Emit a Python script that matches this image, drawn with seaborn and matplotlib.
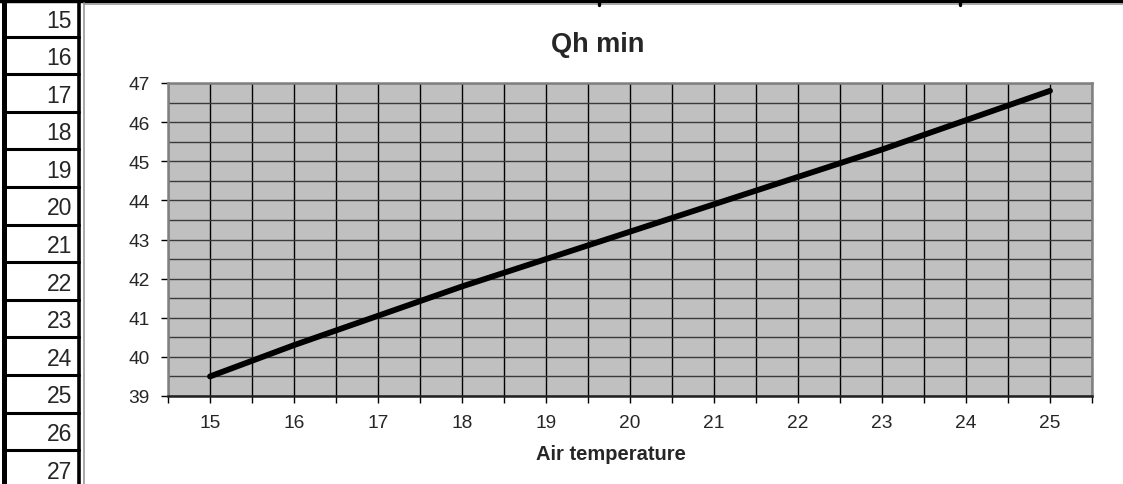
import numpy as np
import pandas as pd
import matplotlib
matplotlib.use("Agg")
import matplotlib.pyplot as plt
from matplotlib.lines import Line2D
import seaborn as sns

# Values
air_temp = [15, 16, 17, 18, 19, 20, 21, 22, 23, 24, 25]
qh_min = [39.5, 40.3, 41.05, 41.8, 42.5, 43.2, 43.9, 44.6, 45.3, 46.05, 46.8]
row_numbers = list(range(15, 28))

df = pd.DataFrame({"Air temperature": air_temp, "Qh min": qh_min})

sns.set_style("white")
plt.rcParams["font.family"] = ["Liberation Sans", "DejaVu Sans"]

W, H = 1123, 485
fig = plt.figure(figsize=(W / 100, H / 100), dpi=100)


def fx(px):
    return px / W


def fy(py):
    return 1 - py / H


# spreadsheet frame around the chart
fig.add_artist(Line2D([0, 1], [fy(2), fy(2)], color="black", lw=3.2))
fig.add_artist(Line2D([fx(84), 1], [fy(5), fy(5)], color="#999999", lw=1.2))
fig.add_artist(Line2D([fx(84), fx(84)], [0, fy(4)], color="#999999", lw=1.2))
fig.add_artist(Line2D([fx(4), fx(4)], [0, 1], color="black", lw=3.6))
fig.add_artist(Line2D([fx(78.5), fx(78.5)], [0, 1], color="black", lw=2.6))
for col_x in [599, 960]:
    fig.add_artist(Line2D([fx(col_x), fx(col_x)], [fy(0), fy(6)], color="black", lw=2.4))

row_h = 37.6
for i, r in enumerate(row_numbers):
    line_y = 37.5 + row_h * i
    fig.add_artist(Line2D([fx(4), fx(78.5)], [fy(line_y), fy(line_y)], color="black", lw=2.2))
    fig.text(fx(72), fy(line_y - 5), str(r), ha="right", va="bottom", fontsize=16.5)

# chart
ax = fig.add_axes([fx(168), fy(397), fx(924), (397 - 84) / H])
ax.set_facecolor("#C0C0C0")
sns.lineplot(data=df, x="Air temperature", y="Qh min", ax=ax, color="black", lw=4.2)

ax.set_xlim(14.5, 25.5)
ax.set_ylim(39, 47)

xt = np.arange(14.5, 25.51, 0.5)
ax.set_xticks(xt)
ax.set_xticklabels([str(int(v)) if v == int(v) else "" for v in xt])
ax.set_yticks(range(39, 48))
ax.set_yticks(np.arange(39.5, 47, 1.0), minor=True)
ax.tick_params(axis="both", which="major", direction="out", length=5, width=1,
               color="black", labelsize=13.8, pad=8, left=True, bottom=True)
ax.tick_params(axis="y", which="minor", length=0)

ax.grid(True, axis="x", which="major", color="black", lw=1)
ax.grid(True, axis="y", which="both", color="#3a3a3a", lw=1)

for side in ["left", "top", "right"]:
    ax.spines[side].set_color("#808080")
    ax.spines[side].set_linewidth(1.8)
ax.spines["bottom"].set_color("#202020")
ax.spines["bottom"].set_linewidth(1.8)

ax.set_xlabel("")
ax.set_ylabel("")
fig.text(fx(611), fy(455), "Air temperature", ha="center", va="center",
         fontsize=14.5, fontweight="bold")
fig.text(fx(598), fy(45), "Qh min", ha="center", va="center",
         fontsize=19.5, fontweight="bold")

fig.savefig("out.png", dpi=100)
